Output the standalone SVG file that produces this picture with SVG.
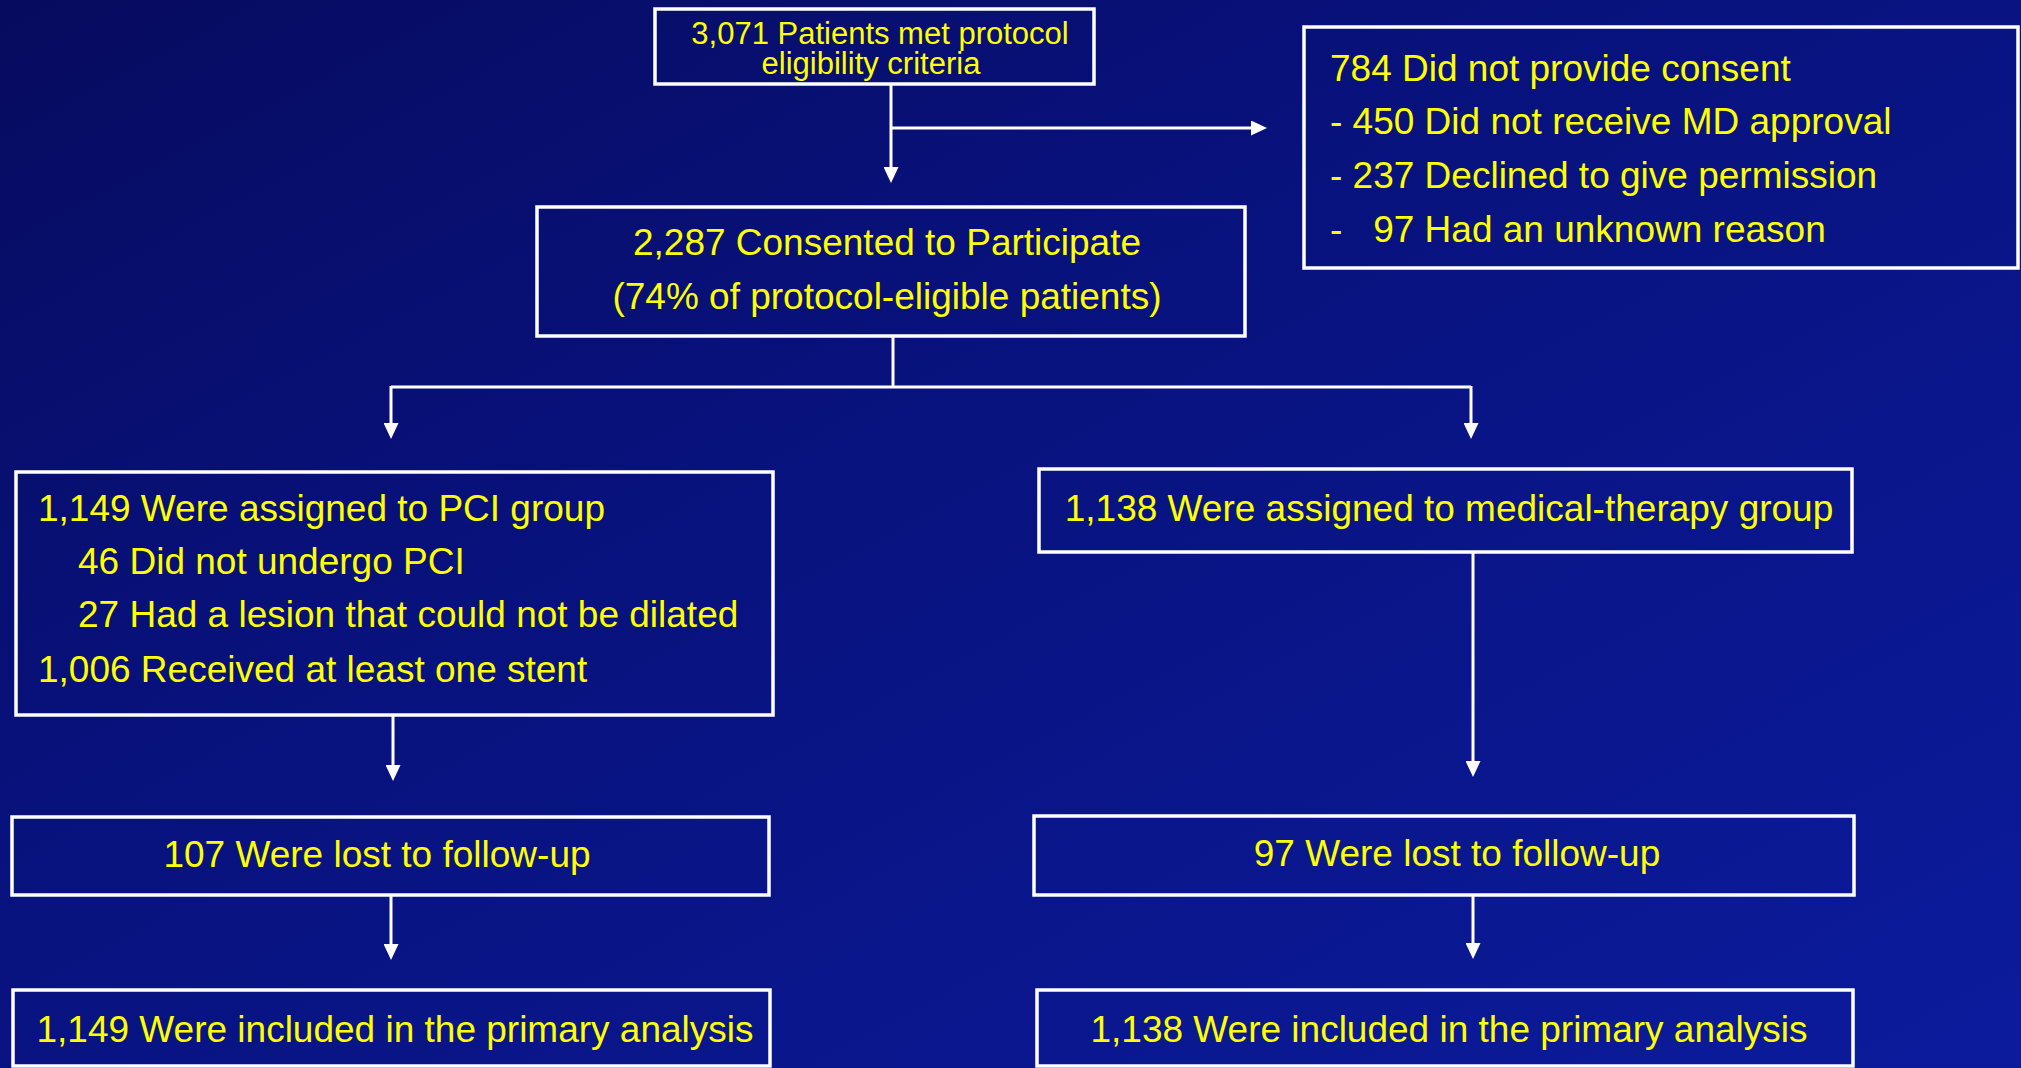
<svg xmlns="http://www.w3.org/2000/svg" width="2021" height="1068" viewBox="0 0 2021 1068">
  <defs>
    <linearGradient id="bg" x1="0" y1="0" x2="1" y2="1">
      <stop offset="0" stop-color="#060b5e"/>
      <stop offset="0.35" stop-color="#08117a"/>
      <stop offset="1" stop-color="#0b1b9c"/>
    </linearGradient>
    <marker id="arr" viewBox="0 0 16 15" refX="6" refY="7.5" markerWidth="16" markerHeight="15" markerUnits="userSpaceOnUse" orient="auto">
      <path d="M0,0 L16,7.5 L0,15 Z" fill="#ffffff"/>
    </marker>
    <style>
      .box { fill: none; stroke: #ffffff; stroke-width: 3.5; }
      .t { font-family: "Liberation Sans", Arial, sans-serif; font-size: 37px; fill: #ffff00; white-space: pre; }
      .t32 { font-size: 31px; }
      .c { text-anchor: middle; }
      .ln { fill: none; stroke: #ffffff; stroke-width: 3; }
    </style>
  </defs>
  <rect x="0" y="0" width="2021" height="1068" fill="url(#bg)"/>

  <g id="connectors">
    <path class="ln" d="M891,85 V173" marker-end="url(#arr)"/>
    <path class="ln" d="M891,128 H1257" marker-end="url(#arr)"/>
    <path class="ln" d="M893,336 V387"/>
    <path class="ln" d="M391,387 H1471"/>
    <path class="ln" d="M391,386 V429" marker-end="url(#arr)"/>
    <path class="ln" d="M1471,386 V429" marker-end="url(#arr)"/>
    <path class="ln" d="M393,715 V771" marker-end="url(#arr)"/>
    <path class="ln" d="M1473,552 V767" marker-end="url(#arr)"/>
    <path class="ln" d="M391,895 V950" marker-end="url(#arr)"/>
    <path class="ln" d="M1473,895 V949" marker-end="url(#arr)"/>
  </g>

  <g id="eligible">
    <rect class="box" x="655" y="9" width="439" height="75"/>
    <text class="t t32 c" x="880" y="44">3,071 Patients met protocol</text>
    <text class="t t32 c" x="871" y="74">eligibility criteria</text>
  </g>

  <g id="no-consent">
    <rect class="box" x="1304" y="27" width="714" height="241"/>
    <text class="t" x="1330" y="81">784 Did not provide consent</text>
    <text class="t" x="1330" y="134">- 450 Did not receive MD approval</text>
    <text class="t" x="1330" y="188">- 237 Declined to give permission</text>
    <text class="t" x="1330" y="242">-   97 Had an unknown reason</text>
  </g>

  <g id="consented">
    <rect class="box" x="537" y="207" width="708" height="129"/>
    <text class="t c" x="887" y="255">2,287 Consented to Participate</text>
    <text class="t c" x="887" y="309">(74% of protocol-eligible patients)</text>
  </g>

  <g id="pci">
    <rect class="box" x="16" y="472" width="757" height="243"/>
    <text class="t" x="38" y="521">1,149 Were assigned to PCI group</text>
    <text class="t" x="78" y="574">46 Did not undergo PCI</text>
    <text class="t" x="78" y="627">27 Had a lesion that could not be dilated</text>
    <text class="t" x="38" y="682">1,006 Received at least one stent</text>
  </g>

  <g id="medical">
    <rect class="box" x="1039" y="469" width="813" height="83"/>
    <text class="t c" x="1449" y="521">1,138 Were assigned to medical-therapy group</text>
  </g>

  <g id="pci-lost">
    <rect class="box" x="12" y="817" width="757" height="78"/>
    <text class="t c" x="377" y="867">107 Were lost to follow-up</text>
  </g>

  <g id="med-lost">
    <rect class="box" x="1034" y="816" width="820" height="79"/>
    <text class="t c" x="1457" y="866">97 Were lost to follow-up</text>
  </g>

  <g id="pci-analysis">
    <rect class="box" x="13" y="990" width="757" height="76"/>
    <text class="t c" x="395" y="1042">1,149 Were included in the primary analysis</text>
  </g>

  <g id="med-analysis">
    <rect class="box" x="1037" y="990" width="816" height="76"/>
    <text class="t c" x="1449" y="1042">1,138 Were included in the primary analysis</text>
  </g>
</svg>
